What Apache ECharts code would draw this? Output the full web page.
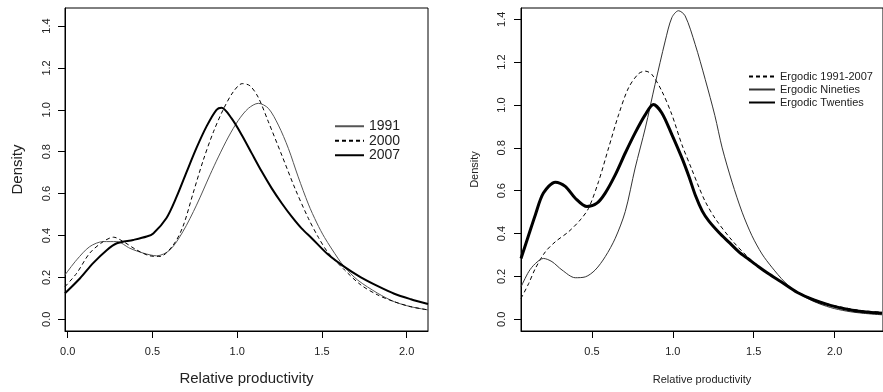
<!DOCTYPE html>
<html>
<head>
<meta charset="utf-8">
<script src="https://cdn.jsdelivr.net/npm/echarts@6/dist/echarts.min.js"></script>
<style>
  html, body { margin: 0; padding: 0; background: #fff; }
  #main { width: 883px; height: 392px; }
</style>
</head>
<body>
<div id="main"></div>
<script>
// left panel: observed densities
const x1991 = [-0.016, 0.053, 0.13, 0.21, 0.29, 0.367, 0.446, 0.525, 0.603, 0.68, 0.76, 0.84, 0.889, 0.948, 1.007, 1.066, 1.125, 1.184, 1.243, 1.302, 1.36, 1.42, 1.47, 1.516, 1.594, 1.633, 1.71, 1.83, 1.927, 2.025, 2.126];
const y1991 = [0.212, 0.284, 0.347, 0.371, 0.371, 0.339, 0.316, 0.303, 0.331, 0.419, 0.545, 0.69, 0.775, 0.87, 0.95, 1.007, 1.031, 1.007, 0.927, 0.816, 0.68, 0.55, 0.46, 0.39, 0.292, 0.25, 0.188, 0.124, 0.084, 0.06, 0.045];
const x2000 = [-0.016, 0.053, 0.13, 0.21, 0.27, 0.328, 0.407, 0.485, 0.544, 0.623, 0.68, 0.74, 0.8, 0.86, 0.917, 0.976, 1.03, 1.075, 1.124, 1.184, 1.263, 1.341, 1.42, 1.48, 1.535, 1.633, 1.73, 1.83, 1.927, 2.025, 2.126];
const y2000 = [0.156, 0.22, 0.316, 0.371, 0.392, 0.371, 0.331, 0.303, 0.3, 0.355, 0.443, 0.602, 0.76, 0.895, 1.0, 1.085, 1.125, 1.115, 1.06, 0.943, 0.784, 0.625, 0.482, 0.39, 0.32, 0.236, 0.164, 0.116, 0.084, 0.06, 0.045];
const x2007 = [-0.016, 0.073, 0.15, 0.23, 0.29, 0.387, 0.466, 0.505, 0.583, 0.642, 0.7, 0.76, 0.82, 0.878, 0.908, 0.967, 1.027, 1.086, 1.145, 1.204, 1.263, 1.322, 1.38, 1.44, 1.535, 1.633, 1.73, 1.83, 1.927, 2.025, 2.126];
const y2007 = [0.124, 0.196, 0.268, 0.33, 0.363, 0.379, 0.395, 0.41, 0.484, 0.584, 0.7, 0.818, 0.922, 1.0, 1.01, 0.959, 0.88, 0.792, 0.705, 0.625, 0.554, 0.49, 0.434, 0.387, 0.31, 0.25, 0.2, 0.158, 0.122, 0.096, 0.073];

// right panel: ergodic densities
const xErg = [0.0615, 0.109, 0.15, 0.212, 0.274, 0.356, 0.428, 0.479, 0.541, 0.603, 0.665, 0.726, 0.788, 0.83, 0.87, 0.932, 0.994, 1.056, 1.117, 1.162, 1.2, 1.262, 1.364, 1.465, 1.567, 1.669, 1.77, 1.872, 1.974, 2.075, 2.177, 2.293];
const yErg = [0.097, 0.167, 0.237, 0.315, 0.362, 0.409, 0.464, 0.518, 0.643, 0.8, 0.955, 1.08, 1.146, 1.158, 1.143, 1.065, 0.955, 0.815, 0.7, 0.615, 0.55, 0.47, 0.37, 0.29, 0.225, 0.175, 0.128, 0.093, 0.068, 0.052, 0.04, 0.033];
const xNin = [0.0615, 0.109, 0.15, 0.2, 0.253, 0.315, 0.397, 0.459, 0.52, 0.582, 0.644, 0.706, 0.767, 0.83, 0.89, 0.953, 0.994, 1.035, 1.076, 1.138, 1.2, 1.26, 1.305, 1.366, 1.428, 1.489, 1.551, 1.612, 1.69, 1.77, 1.872, 1.974, 2.075, 2.177, 2.293];
const yNin = [0.151, 0.222, 0.26, 0.284, 0.269, 0.23, 0.194, 0.198, 0.23, 0.292, 0.378, 0.503, 0.706, 0.893, 1.096, 1.299, 1.408, 1.44, 1.416, 1.283, 1.12, 0.95, 0.8, 0.64, 0.5, 0.39, 0.305, 0.243, 0.175, 0.125, 0.083, 0.055, 0.038, 0.028, 0.021];
const xTwe = [0.0615, 0.109, 0.15, 0.2, 0.274, 0.335, 0.397, 0.469, 0.531, 0.582, 0.644, 0.706, 0.767, 0.83, 0.88, 0.932, 0.994, 1.056, 1.1, 1.141, 1.182, 1.223, 1.285, 1.346, 1.408, 1.469, 1.53, 1.592, 1.669, 1.77, 1.872, 1.974, 2.075, 2.177, 2.293];
const yTwe = [0.284, 0.393, 0.487, 0.589, 0.64, 0.62, 0.565, 0.526, 0.542, 0.589, 0.674, 0.776, 0.87, 0.955, 1.002, 0.963, 0.862, 0.753, 0.665, 0.575, 0.505, 0.458, 0.405, 0.36, 0.315, 0.28, 0.245, 0.212, 0.175, 0.125, 0.09, 0.065, 0.047, 0.035, 0.028];

const yTicks = [0, 0.2, 0.4, 0.6, 0.8, 1.0, 1.2, 1.4];
const xTicksLeft = [0, 0.5, 1.0, 1.5, 2.0];
const xTicksRight = [0.5, 1.0, 1.5, 2.0];

const pairs = (xs, ys) => xs.map((x, i) => [x, ys[i]]);
const font = "Liberation Sans, Arial, sans-serif";
const txt = "#222";

function xAxisOf(idx, min, max, ticks, nameSize, nameGap) {
  return {
    type: "value", gridIndex: idx, min: min, max: max,
    name: "Relative productivity", nameLocation: "middle", nameGap: nameGap,
    nameTextStyle: { fontFamily: font, fontSize: nameSize, color: txt },
    axisLine: { show: true, onZero: false, lineStyle: { color: "#000", width: 1 } },
    axisTick: { show: true, length: 7, customValues: ticks, lineStyle: { color: "#000" } },
    axisLabel: { customValues: ticks, margin: 15, fontFamily: font, fontSize: 11, color: txt,
      formatter: v => v.toFixed(1) },
    splitLine: { show: false },
  };
}

function yAxisOf(idx, min, max, nameSize, nameGap, labelMargin) {
  return {
    type: "value", gridIndex: idx, min: min, max: max,
    name: "Density", nameLocation: "middle", nameGap: nameGap, nameRotate: 90,
    nameTextStyle: { fontFamily: font, fontSize: nameSize, color: txt },
    axisLine: { show: true, onZero: false, lineStyle: { color: "#000", width: 1 } },
    axisTick: { show: true, length: 7, customValues: yTicks, lineStyle: { color: "#000" } },
    axisLabel: { customValues: yTicks, rotate: 90, margin: labelMargin, fontFamily: font, fontSize: 11, color: txt,
      formatter: v => v.toFixed(1) },
    splitLine: { show: false },
  };
}

function line(name, xi, xs, ys, color, width, dashed) {
  return {
    name: name, type: "line", xAxisIndex: xi, yAxisIndex: xi,
    data: pairs(xs, ys), smooth: 0.3, symbol: "none", showSymbol: false,
    lineStyle: { color: color, width: width, type: dashed ? [4, 3] : "solid" },
    itemStyle: { color: color },
    emphasis: { disabled: true },
  };
}

const chart = echarts.init(document.getElementById("main"));
chart.setOption({
  animation: false,
  backgroundColor: "#fff",
  grid: [
    { left: 65, top: 8, width: 363, height: 323, show: true, borderColor: "#000", borderWidth: 1 },
    { left: 521, top: 8, width: 364, height: 323, show: true, borderColor: "#000", borderWidth: 1 },
  ],
  xAxis: [
    xAxisOf(0, -0.016, 2.126, xTicksLeft, 15, 40),
    xAxisOf(1, 0.0615, 2.299, xTicksRight, 11, 43),
  ],
  yAxis: [
    yAxisOf(0, -0.0558, 1.486, 15, 40, 13),
    yAxisOf(1, -0.0546, 1.4527, 11, 41, 14),
  ],
  legend: [
    {
      data: ["1991", "2000", "2007"], left: 334, top: 119, orient: "vertical",
      itemWidth: 29, itemHeight: 10, itemGap: 0, padding: 0, selectedMode: false,
      itemStyle: { opacity: 0, borderWidth: 0 },
      textStyle: { fontFamily: font, fontSize: 14, color: txt, lineHeight: 14.5 },
    },
    {
      data: ["Ergodic 1991-2007", "Ergodic Nineties", "Ergodic Twenties"], left: 748, top: 70, orient: "vertical",
      itemWidth: 26, itemHeight: 10, itemGap: 0, padding: 0, selectedMode: false,
      itemStyle: { opacity: 0, borderWidth: 0 },
      textStyle: { fontFamily: font, fontSize: 11, color: txt, lineHeight: 13 },
    },
  ],
  series: [
    line("1991", 0, x1991, y1991, "#555", 1, false),
    line("2000", 0, x2000, y2000, "#000", 1, true),
    line("2007", 0, x2007, y2007, "#000", 2, false),
    line("Ergodic 1991-2007", 1, xErg, yErg, "#000", 1, true),
    line("Ergodic Nineties", 1, xNin, yNin, "#333", 1, false),
    line("Ergodic Twenties", 1, xTwe, yTwe, "#000", 3, false),
  ],
});
</script>
</body>
</html>
